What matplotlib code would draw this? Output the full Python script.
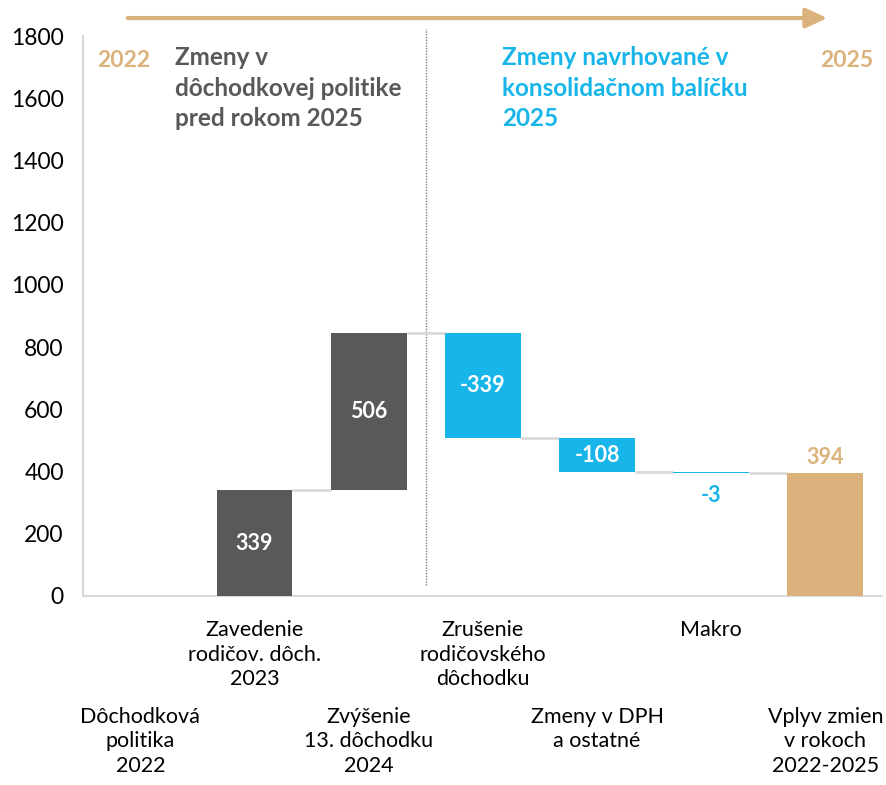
import numpy as np
import matplotlib.pyplot as plt
from matplotlib.patches import FancyArrowPatch
from matplotlib.transforms import blended_transform_factory

plt.rcParams['font.family'] = ['Lato', 'DejaVu Sans']

# Waterfall data
categories = [
    "Dôchodková\npolitika\n2022",
    "Zavedenie\nrodičov. dôch.\n2023",
    "Zvýšenie\n13. dôchodku\n2024",
    "Zrušenie\nrodičovského\ndôchodku",
    "Zmeny v DPH\na ostatné",
    "Makro",
    "Vplyv zmien\nv rokoch\n2022-2025",
]
deltas = [0, 339, 506, -339, -108, -3]
total = 394
label_rows = [2, 1, 2, 1, 2, 1, 2]

c_gray = "#58595B"
c_cyan = "#17B5E9"
c_tan = "#DBB27B"
c_line = "#D9D9D9"

bar_colors = [c_gray, c_gray, c_gray, c_cyan, c_cyan, c_cyan, c_tan]

# running levels
ends = np.cumsum(deltas)
starts = ends - np.array(deltas)
bottoms = list(starts) + [0]
heights = list(deltas) + [total]
levels = list(ends) + [total]

fig = plt.figure(figsize=(8.86, 7.85), dpi=100)
ax = fig.add_axes([0.094, 0.241, 0.902, 0.713])

x = np.arange(len(categories))
w = 0.665
ax.bar(x, heights, bottom=bottoms, width=w, color=bar_colors, zorder=3)

# connectors
for i in range(1, len(categories) - 1):
    ax.plot([x[i] + w / 2, x[i + 1] - w / 2], [levels[i], levels[i]],
            color=c_line, lw=2, zorder=2, solid_capstyle='butt')

# value labels
for i in range(1, len(categories)):
    v = heights[i]
    txt = str(v)
    if i == len(categories) - 1:
        ax.text(x[i], levels[i] + 18, txt, ha='center', va='bottom',
                color=c_tan, fontsize=15.5, fontweight='bold')
    elif abs(v) < 50:
        ax.text(x[i], levels[i] - 40, txt, ha='center', va='top',
                color=c_cyan, fontsize=15.5, fontweight='bold')
    else:
        ax.text(x[i], bottoms[i] + v / 2, txt, ha='center', va='center',
                color='white', fontsize=15.5, fontweight='bold')

# dotted separator
ax.axvline(2.5, ymin=0.02, ymax=1.012, color="#7F7F7F", lw=1,
           ls=(0, (1, 1)), clip_on=False, zorder=1)

ax.set_xlim(-0.5, 6.5)
ax.set_ylim(0, 1800)
ax.set_yticks(np.arange(0, 1801, 200))
ax.set_xticks([])
ax.tick_params(axis='y', length=0, labelsize=16.5, pad=14)
for s in ['top', 'right']:
    ax.spines[s].set_visible(False)
for s in ['left', 'bottom']:
    ax.spines[s].set_color(c_line)
    ax.spines[s].set_linewidth(1.5)

# category labels in two rows
trans = blended_transform_factory(ax.transData, ax.transAxes)
for i, lab in enumerate(categories):
    y = -0.043 if label_rows[i] == 1 else -0.198
    ax.text(x[i], y, lab, transform=trans, ha='center', va='top',
            fontsize=15.5, linespacing=1.3, color='black')

# header texts
ax.text(-0.38, 1720, "2022", ha='left', va='center', color=c_tan,
        fontsize=16.5, fontweight='bold')
ax.text(6.42, 1720, "2025", ha='right', va='center', color=c_tan,
        fontsize=16.5, fontweight='bold')
ax.text(0.3, 1768, "Zmeny v\ndôchodkovej politike\npred rokom 2025",
        ha='left', va='top', color="#595959", fontsize=17.5,
        fontweight='bold', linespacing=1.4)
ax.text(3.17, 1768, "Zmeny navrhované v\nkonsolidačnom balíčku\n2025",
        ha='left', va='top', color=c_cyan, fontsize=17.5,
        fontweight='bold', linespacing=1.4)

# timeline arrow
fig.patches.append(FancyArrowPatch(
    (0.141, 0.977), (0.937, 0.977), transform=fig.transFigure,
    arrowstyle='-|>,head_length=13,head_width=6', color=c_tan, lw=3,
    mutation_scale=1))

fig.savefig("out.png", dpi=100)
